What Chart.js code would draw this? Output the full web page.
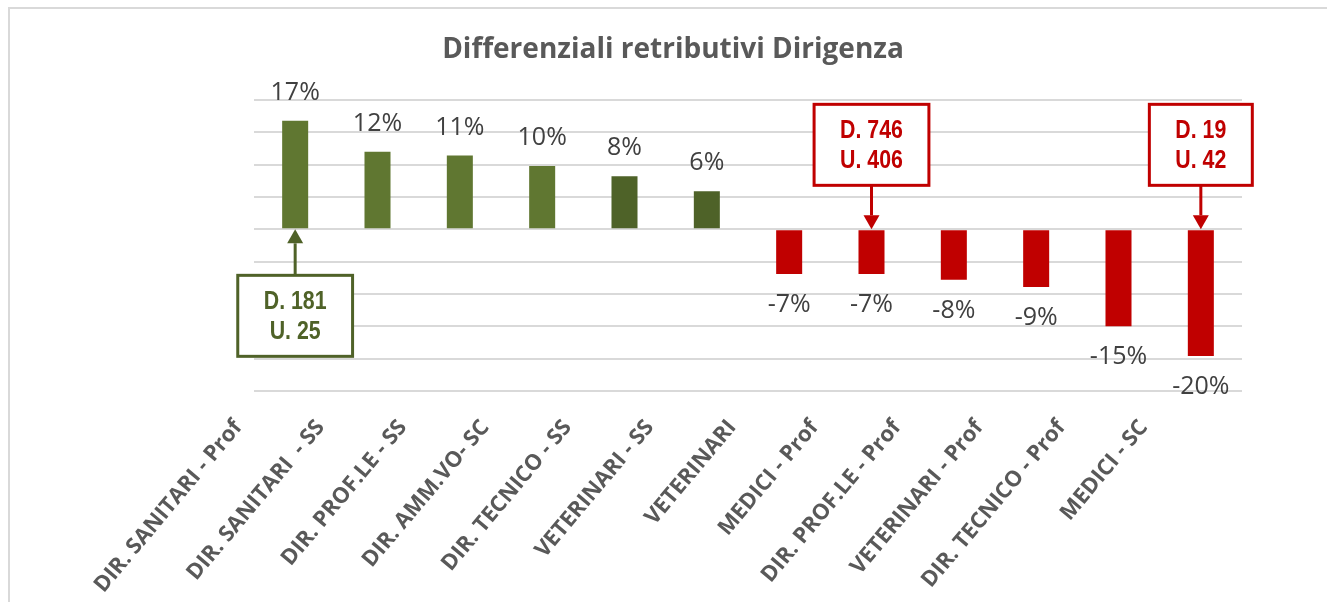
<!DOCTYPE html>
<html>
<head>
<meta charset="utf-8">
<title>Differenziali retributivi Dirigenza</title>
<script src="https://cdn.jsdelivr.net/npm/chart.js@4.4.1/dist/chart.umd.min.js"></script>
<style>
  html, body { margin: 0; padding: 0; background: #fff; }
  #wrap { position: relative; width: 1327px; height: 602px; }
</style>
</head>
<body>
<div id="wrap"><canvas id="chart"></canvas></div>
<script>
// dati
const categories = [
  "DIR. SANITARI - Prof", "DIR. SANITARI  - SS", "DIR. PROF.LE - SS", "DIR. AMM.VO- SC",
  "DIR. TECNICO - SS", "VETERINARI - SS", "VETERINARI", "MEDICI - Prof",
  "DIR. PROF.LE - Prof", "VETERINARI - Prof", "DIR. TECNICO - Prof", "MEDICI - SC"
];
const values = [16.8, 12, 11.4, 9.8, 8.2, 5.9, -6.9, -6.9, -7.8, -8.9, -15, -19.6];
const valueLabels = ["17%", "12%", "11%", "10%", "8%", "6%", "-7%", "-7%", "-8%", "-9%", "-15%", "-20%"];
const darkGreen = ["DIR. TECNICO - SS", "VETERINARI - SS"];

// riquadri D. / U.
const callouts = [
  { category: "DIR. SANITARI - Prof", lines: ["D. 181", "U. 25"], color: "#4F6228" },
  { category: "MEDICI - Prof", lines: ["D. 746", "U. 406"], color: "#C00000" },
  { category: "MEDICI - SC", lines: ["D. 19", "U. 42"], color: "#C00000" }
];

const barColors = categories.map((c, i) => {
  if (values[i] < 0) return "#C00000";
  return darkGreen.includes(c) ? "#4E6228" : "#607731";
});

const frame = {
  id: "frame",
  beforeDraw(chart) {
    const ctx = chart.ctx;
    ctx.save();
    ctx.strokeStyle = "#D9D9D9";
    ctx.lineWidth = 2;
    ctx.beginPath();
    ctx.moveTo(9, 610);
    ctx.lineTo(9, 8);
    ctx.lineTo(1330, 8);
    ctx.stroke();
    ctx.font = "bold 28px 'Open Sans'";
    ctx.fillStyle = "#595959";
    ctx.textAlign = "center";
    ctx.textBaseline = "alphabetic";
    ctx.fillText("Differenziali retributivi Dirigenza", 673, 58);
    ctx.restore();
  }
};

// testo "narrow" alla Arial Narrow
function narrowText(ctx, text, x, y) {
  ctx.save();
  ctx.translate(x, y);
  ctx.scale(0.82, 1);
  ctx.fillText(text, 0, 0);
  ctx.restore();
}

const labelsAndCallouts = {
  id: "labelsAndCallouts",
  afterDatasetsDraw(chart) {
    const ctx = chart.ctx;
    const meta = chart.getDatasetMeta(0);
    const zeroY = chart.scales.y.getPixelForValue(0);
    ctx.save();

    // etichette valori
    ctx.font = "25px 'Open Sans'";
    ctx.fillStyle = "#404040";
    ctx.textAlign = "center";
    ctx.textBaseline = "middle";
    meta.data.forEach((bar, i) => {
      const y = values[i] >= 0 ? bar.y - 28 : bar.y + 31;
      ctx.fillText(valueLabels[i], bar.x, y);
    });

    // riquadri con freccia
    ctx.font = "bold 26px 'Liberation Sans', Arial, sans-serif";
    callouts.forEach(c => {
      const i = categories.indexOf(c.category);
      const bar = meta.data[i];
      const below = values[i] >= 0;
      const w = ctx.measureText(c.lines[0]).width * 0.82 + 52;
      const h = 81;
      const top = below ? zeroY + 46 : zeroY - 44 - h;
      const left = bar.x - w / 2;

      ctx.strokeStyle = c.color;
      ctx.fillStyle = "#fff";
      ctx.lineWidth = 3;
      ctx.fillRect(left, top, w, h);
      ctx.strokeRect(left, top, w, h);

      ctx.fillStyle = c.color;
      narrowText(ctx, c.lines[0], bar.x, top + h / 2 - 14);
      narrowText(ctx, c.lines[1], bar.x, top + h / 2 + 16);

      // freccia
      const startY = below ? top : top + h;
      const dir = below ? -1 : 1;
      const headY = zeroY - dir * 14;
      ctx.beginPath();
      ctx.moveTo(bar.x, startY);
      ctx.lineTo(bar.x, headY);
      ctx.stroke();
      ctx.beginPath();
      ctx.moveTo(bar.x, zeroY);
      ctx.lineTo(bar.x - 8, headY);
      ctx.lineTo(bar.x + 8, headY);
      ctx.closePath();
      ctx.fill();
    });
    ctx.restore();
  }
};

new Chart(document.getElementById("chart"), {
  type: "bar",
  data: {
    labels: categories,
    datasets: [{
      data: values,
      backgroundColor: barColors,
      barPercentage: 1,
      categoryPercentage: 0.316
    }]
  },
  options: {
    responsive: true,
    maintainAspectRatio: false,
    animation: false,
    layout: { padding: { left: 254, right: 85, top: 100, bottom: 0 } },
    plugins: {
      legend: { display: false },
      tooltip: { enabled: false }
    },
    scales: {
      x: {
        grid: { display: false },
        border: { display: false },
        ticks: {
          autoSkip: false,
          minRotation: 50,
          maxRotation: 50,
          padding: 16,
          labelOffset: -57,
          color: "#595959",
          font: { family: "Open Sans", weight: "bold", size: 22 }
        },
        afterFit(scale) { scale.height = 211; }
      },
      y: {
        min: -25,
        max: 20,
        ticks: { stepSize: 5, display: false },
        border: { display: false },
        grid: { color: "#D9D9D9", lineWidth: 2, drawTicks: false },
        afterFit(scale) { scale.width = 0; }
      }
    }
  },
  plugins: [frame, labelsAndCallouts]
});
</script>
</body>
</html>
